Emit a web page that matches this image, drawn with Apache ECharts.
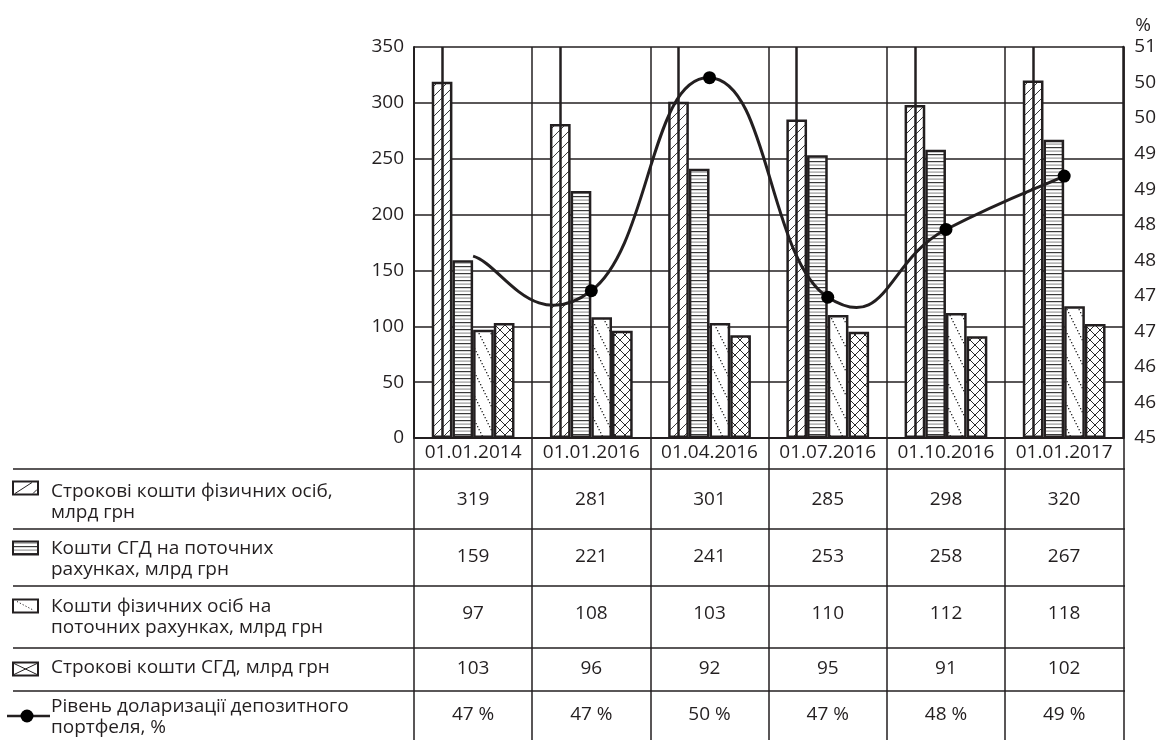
<!DOCTYPE html>
<html>
<head>
<meta charset="utf-8">
<script src="https://cdn.jsdelivr.net/npm/echarts@6/dist/echarts.min.js"></script>
<style>
  html, body { margin: 0; padding: 0; background: #fff; }
  #chart { width: 1159px; height: 740px; }
</style>
</head>
<body>
<div id="chart"></div>
<script>
// Reporting dates
const dates = ['01.01.2014', '01.01.2016', '01.04.2016', '01.07.2016', '01.10.2016', '01.01.2017'];

// Deposits, bn UAH
const termIndividuals = [319, 281, 301, 285, 298, 320];     // Строкові кошти фізичних осіб
const currentBusiness = [159, 221, 241, 253, 258, 267];     // Кошти СГД на поточних рахунках
const currentIndividuals = [97, 108, 103, 110, 112, 118];   // Кошти фізичних осіб на поточних рахунках
const termBusiness = [103, 96, 92, 95, 91, 102];            // Строкові кошти СГД

// Dollarization of the deposit portfolio, %
const dollarization = [47.79, 47.26, 50.53, 47.16, 48.2, 49.02];

// Axis tick settings
const leftTicks = { min: 0, max: 350, step: 50 };
const rightTicks = { min: 45, max: 51, count: 11 };

const seriesNames = [
  'Строкові кошти фізичних осіб,\nмлрд грн',
  'Кошти СГД на поточних\nрахунках, млрд грн',
  'Кошти фізичних осіб на\nпоточних рахунках, млрд грн',
  'Строкові кошти СГД, млрд грн',
  'Рівень доларизації депозитного\nпортфеля, %'
];

const INK = '#231f20';
const FONT = '"Open Sans", "Noto Sans", sans-serif';
const FS = 19;

// ---- hatch patterns -------------------------------------------------
function tile(w, h, draw) {
  const c = document.createElement('canvas');
  c.width = w; c.height = h;
  const g = c.getContext('2d');
  g.fillStyle = '#fff';
  g.fillRect(0, 0, w, h);
  draw(g);
  return c;
}
const diagTile = tile(10, 10, g => {
  g.strokeStyle = '#3a3a3a'; g.lineWidth = 1;
  g.beginPath();
  g.moveTo(-1, 11); g.lineTo(11, -1);
  g.moveTo(-1, 1); g.lineTo(1, -1);
  g.moveTo(9, 11); g.lineTo(11, 9);
  g.stroke();
});
const horizTile = tile(4, 7, g => {
  g.fillStyle = '#3a3a3a'; g.fillRect(0, 0, 4, 1.2);
  g.fillStyle = '#9a9a9a'; g.fillRect(0, 3.5, 4, 1.2);
});
const dotTile = tile(12, 24, g => {
  g.fillStyle = '#2a2a2a';
  for (let k = 0; k < 8; k++) {
    const y = k * 3;
    const x = y / 2;
    g.fillRect(x, y, 1.3, 1.3);
  }
});
const crossTile = tile(10, 10, g => {
  g.strokeStyle = '#2a2a2a'; g.lineWidth = 1;
  g.beginPath();
  g.moveTo(0, 0); g.lineTo(10, 10);
  g.moveTo(10, 0); g.lineTo(0, 10);
  g.stroke();
});
const pat = c => ({ image: c, repeat: 'repeat' });

// ---- table rows under the plot -------------------------------------
const tableRows = [
  { values: termIndividuals, fmt: v => String(v), center: 500 },
  { values: currentBusiness, fmt: v => String(v), center: 557 },
  { values: currentIndividuals, fmt: v => String(v), center: 614 },
  { values: termBusiness, fmt: v => String(v), center: 669 },
  { values: dollarization, fmt: v => Math.floor(v) + ' %', center: 715 }
];

const gridTop = 47, gridBottomY = 438, gridLeft = 414, gridRightX = 1125;
const tableBottom = 740;
const rowLines = [469, 529, 586, 648, 691];

const rowAxes = tableRows.map(r => ({
  type: 'category',
  gridIndex: 0,
  position: 'bottom',
  data: dates,
  axisLine: { show: false, onZero: false },
  axisTick: { show: false },
  splitLine: { show: false },
  axisLabel: {
    interval: 0,
    margin: r.center - gridBottomY,
    verticalAlign: 'middle',
    color: INK,
    fontFamily: FONT,
    fontSize: FS,
    formatter: (v, idx) => r.fmt(r.values[idx])
  }
}));

// ---- legend column --------------------------------------------------
const graphics = [];
rowLines.forEach(y => {
  graphics.push({
    type: 'line', silent: true,
    shape: { x1: 13, y1: y, x2: gridRightX, y2: y },
    style: { stroke: INK, lineWidth: 1.5 }
  });
});
const iconY = [488, 548, 606, 669];
const textY = [502, 559, 617, 668, 717];
const ix = 13, iw = 25, ih = 13;
function iconBox(cy, fill) {
  return {
    type: 'rect', silent: true,
    shape: { x: ix, y: cy - ih / 2, width: iw, height: ih },
    style: { fill: fill, stroke: INK, lineWidth: 2 }
  };
}
function iconLine(x1, y1, x2, y2, dash) {
  return {
    type: 'line', silent: true,
    shape: { x1, y1, x2, y2 },
    style: { stroke: INK, lineWidth: 1, lineDash: dash || null }
  };
}
// diagonal hatch key
graphics.push(iconBox(iconY[0], '#fff'));
graphics.push(iconLine(ix + 2, iconY[0] + ih / 2 - 1, ix + iw - 6, iconY[0] - ih / 2 + 1));
graphics.push(iconLine(ix + iw - 5, iconY[0] + ih / 2 - 1, ix + iw - 1, iconY[0] + ih / 2 - 5));
// horizontal hatch key
graphics.push(iconBox(iconY[1], { image: horizTile, repeat: 'repeat' }));
// dotted hatch key
graphics.push(iconBox(iconY[2], '#fff'));
graphics.push(iconLine(ix + 4, iconY[2] - ih / 2 + 2, ix + iw - 4, iconY[2] + ih / 2 - 2, [1.2, 2]));
// cross hatch key
graphics.push(iconBox(iconY[3], '#fff'));
graphics.push(iconLine(ix + 1, iconY[3] - ih / 2 + 1, ix + iw - 1, iconY[3] + ih / 2 - 1));
graphics.push(iconLine(ix + iw - 1, iconY[3] - ih / 2 + 1, ix + 1, iconY[3] + ih / 2 - 1));
// line key
graphics.push({
  type: 'line', silent: true,
  shape: { x1: 7, y1: 716, x2: 50, y2: 716 },
  style: { stroke: INK, lineWidth: 2.5 }
});
graphics.push({
  type: 'circle', silent: true,
  shape: { cx: 27, cy: 716, r: 6.5 },
  style: { fill: '#000' }
});
seriesNames.forEach((name, i) => {
  graphics.push({
    type: 'text', silent: true,
    x: 51, y: textY[i],
    style: {
      text: name,
      fill: INK,
      font: FS + 'px ' + FONT,
      lineHeight: 21,
      verticalAlign: 'middle',
      align: 'left'
    }
  });
});

// Cardinal-spline curve through the dollarization points (in pixel space)
function splinePath(pts, k) {
  let d = 'M' + pts[0][0] + ',' + pts[0][1];
  for (let i = 0; i < pts.length - 1; i++) {
    const p0 = pts[Math.max(i - 1, 0)];
    const p1 = pts[i];
    const p2 = pts[i + 1];
    const p3 = pts[Math.min(i + 2, pts.length - 1)];
    const c1x = p1[0] + (p2[0] - p0[0]) * k, c1y = p1[1] + (p2[1] - p0[1]) * k;
    const c2x = p2[0] - (p3[0] - p1[0]) * k, c2y = p2[1] - (p3[1] - p1[1]) * k;
    d += ' C' + c1x + ',' + c1y + ' ' + c2x + ',' + c2y + ' ' + p2[0] + ',' + p2[1];
  }
  return d;
}

const barBase = {
  type: 'bar',
  xAxisIndex: 0,
  yAxisIndex: 0,
  barGap: '0%',
  barCategoryGap: '30%',
  z: 3
};

const chart = echarts.init(document.getElementById('chart'), null, { renderer: 'canvas' });
chart.setOption({
  animation: false,
  backgroundColor: '#fff',
  textStyle: { fontFamily: FONT },
  grid: { left: gridLeft, right: 1159 - gridRightX, top: gridTop, bottom: 740 - gridBottomY, containLabel: false },
  xAxis: [{
    type: 'category',
    gridIndex: 0,
    position: 'bottom',
    data: dates,
    boundaryGap: true,
    axisLine: { show: true, onZero: false, lineStyle: { color: INK, width: 2 } },
    axisTick: { show: true, interval: 0, length: tableBottom - gridBottomY, lineStyle: { color: INK, width: 1.5 } },
    splitLine: { show: true, interval: 0, lineStyle: { color: INK, width: 1.5 } },
    axisLabel: { interval: 0, margin: 15, verticalAlign: 'middle', color: INK, fontFamily: FONT, fontSize: FS }
  }].concat(rowAxes),
  yAxis: [{
    type: 'value',
    position: 'left',
    min: leftTicks.min, max: leftTicks.max, interval: leftTicks.step,
    axisLine: { show: true, lineStyle: { color: INK, width: 2 } },
    axisTick: { show: false },
    splitLine: { show: true, lineStyle: { color: INK, width: 1.5 } },
    axisLabel: { margin: 10, color: INK, fontFamily: FONT, fontSize: FS }
  }, {
    type: 'value',
    position: 'right',
    min: rightTicks.min, max: rightTicks.max,
    interval: (rightTicks.max - rightTicks.min) / rightTicks.count,
    name: '%',
    nameLocation: 'end',
    nameGap: 12,
    nameTextStyle: { color: INK, fontFamily: FONT, fontSize: FS, align: 'left', padding: [0, 0, 0, 12] },
    axisLine: { show: true, lineStyle: { color: INK, width: 2.5 } },
    axisTick: { show: false },
    splitLine: { show: false },
    axisLabel: { margin: 11, color: INK, fontFamily: FONT, fontSize: FS, formatter: v => String(Math.round(v)) }
  }],
  series: [
    Object.assign({}, barBase, {
      name: seriesNames[0],
      data: termIndividuals,
      itemStyle: { color: pat(diagTile), borderColor: INK, borderWidth: 2.5 },
      markLine: {
        silent: true,
        symbol: ['none', 'none'],
        label: { show: false },
        lineStyle: { color: INK, width: 2.5, type: 'solid' },
        data: dates.map(d => ({ xAxis: d }))
      }
    }),
    Object.assign({}, barBase, {
      name: seriesNames[1],
      data: currentBusiness,
      itemStyle: { color: pat(horizTile), borderColor: INK, borderWidth: 2.5 }
    }),
    Object.assign({}, barBase, {
      name: seriesNames[2],
      data: currentIndividuals,
      itemStyle: { color: pat(dotTile), borderColor: INK, borderWidth: 2.5 }
    }),
    Object.assign({}, barBase, {
      name: seriesNames[3],
      data: termBusiness,
      itemStyle: { color: pat(crossTile), borderColor: INK, borderWidth: 2.5 }
    }),
    {
      // smooth curve of the dollarization level
      type: 'custom',
      name: seriesNames[4],
      xAxisIndex: 0,
      yAxisIndex: 1,
      z: 5,
      silent: true,
      clip: false,
      data: dollarization.map((v, i) => [i, v]),
      renderItem: (params, api) => {
        if (params.dataIndex !== 0) return null;
        const pts = dollarization.map((v, i) => api.coord([i, v]));
        return {
          type: 'path',
          shape: { pathData: splinePath(pts, 0.25) },
          style: { fill: 'none', stroke: INK, lineWidth: 3 }
        };
      }
    },
    {
      // point markers of the dollarization level
      type: 'line',
      name: seriesNames[4],
      xAxisIndex: 0,
      yAxisIndex: 1,
      z: 6,
      data: dollarization.map((v, i) => i === 0 ? { value: v, symbol: 'none' } : v),
      symbol: 'circle',
      symbolSize: 13,
      lineStyle: { opacity: 0 },
      itemStyle: { color: '#000' }
    }
  ],
  graphic: graphics
});
</script>
</body>
</html>
